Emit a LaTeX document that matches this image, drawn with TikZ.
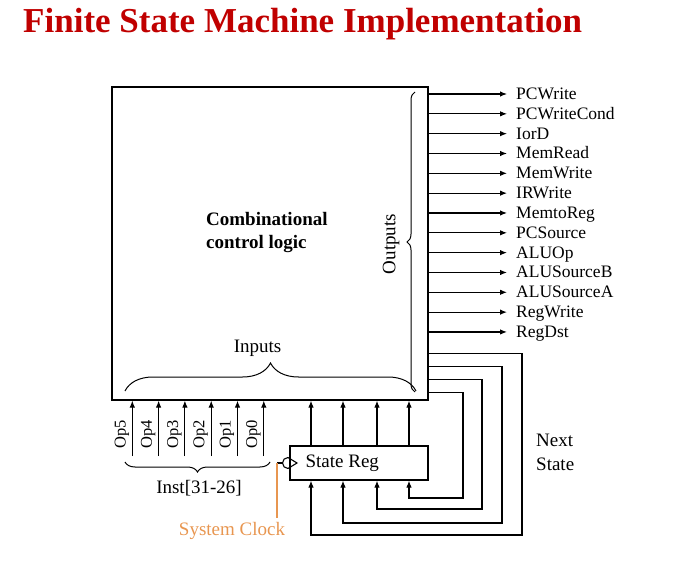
\documentclass[tikz,border=0pt]{standalone}
\usepackage{fontspec}
\setmainfont{Liberation Serif}
\usetikzlibrary{arrows.meta,positioning,calc,decorations.pathreplacing}
\definecolor{titlered}{RGB}{192,0,0}
\definecolor{clockorange}{RGB}{232,150,80}
\tikzset{
  sigarr/.style={-{Latex[length=7pt,width=5.5pt]}, line width=1.1pt},
  wire/.style={line width=1.1pt},
  blk/.style={draw, line width=1.2pt, inner sep=0pt},
  lbl/.style={font=\fontsize{19}{23}\selectfont, inner sep=0pt},
  outlbl/.style={font=\fontsize{17.5}{20}\selectfont, anchor=west, inner sep=0pt,
    text height=13pt, text depth=2pt},
  oplbl/.style={font=\fontsize{16.5}{20}\selectfont, rotate=90, inner sep=0pt},
  brc/.style={decorate, line width=1pt},
}

\begin{document}
\begin{tikzpicture}[x=1pt, y=-1pt]
  \useasboundingbox (0,0) rectangle (689,567);
  \node[anchor=base west, inner sep=0pt, text=titlered,
    font=\fontsize{35}{40}\selectfont\bfseries] (title) at (23,33)
    {Finite State Machine Implementation};

  % combinational block
  \node[blk, minimum width=316pt, minimum height=313pt] (ccl) at (270,243.5) {};
  \node[lbl, font=\fontsize{19}{23}\selectfont\bfseries, anchor=west, align=left]
    (ccltxt) at (206,233) {Combinational\\control logic};

  % outputs
  \foreach \sig [count=\i from 0] in {PCWrite,PCWriteCond,IorD,MemRead,MemWrite,IRWrite,MemtoReg,PCSource,ALUOp,ALUSourceB,ALUSourceA,RegWrite,RegDst} {
    \node[outlbl] (out\i) at (516,94+\i*19.83) {\sig};
    \draw[sigarr] (ccl.east |- out\i.west) -- ([xshift=-9pt]out\i.west);
  }
  \draw[brc, decoration={brace, amplitude=8pt}] (415,392) -- (415,92);
  \node[lbl, rotate=90] (outp) at (391,244) {Outputs};

  % inputs
  \foreach \x/\op in {132.3/Op5,158.6/Op4,184.9/Op3,211.2/Op2,237.5/Op1,263.8/Op0} {
    \coordinate (\op) at (\x,456);
    \draw[sigarr] (\op) -- (\op |- ccl.south);
    \node[oplbl] (l\op) at (\x-10.5,434) {\op};
  }
  \draw[brc, decoration={brace, amplitude=28pt}] (125,391) -- (416,391);
  \node[lbl] (inp) at (257.5,348) {Inputs};
  \draw[brc, decoration={brace, amplitude=10pt}] (270,462) -- (125,462);
  \node[lbl] (inst) at (199,488) {Inst[31-26]};

  % state register
  \node[blk, minimum width=138pt, minimum height=34pt] (reg) at (359,463) {};
  \node[lbl, anchor=west] (regtxt) at ([xshift=16pt]reg.west) {State Reg};
  \foreach \xc in {311,343,377,409}
    \draw[sigarr] (reg.north -| \xc,0) -- (ccl.south -| \xc,0);
  \foreach \dy/\xr/\yb/\xc in {47/522/535/311, 34/502/523/343, 21/482/509/377, 8/463/498/409}
    \draw[sigarr] ([yshift=\dy pt]ccl.south east) -| (\xr,\yb) -| (reg.south -| \xc,0);
  \node[lbl, anchor=west, align=left, font=\fontsize{19}{24}\selectfont] (nxt) at (536,452) {Next\\State};

  % clock
  \coordinate (clkin) at (277,463);
  \draw[wire] (clkin) -- (282.5,463);
  \draw[wire] (288,457.5) -- (297,463) -- (288,468.5)
    arc[start angle=90, end angle=270, radius=5.5];
  \node[lbl, text=clockorange] (sysclk) at (232,531) {System Clock};
  \draw[wire, clockorange] (clkin) -- ([yshift=4pt]clkin |- sysclk.north);
\end{tikzpicture}
\end{document}
